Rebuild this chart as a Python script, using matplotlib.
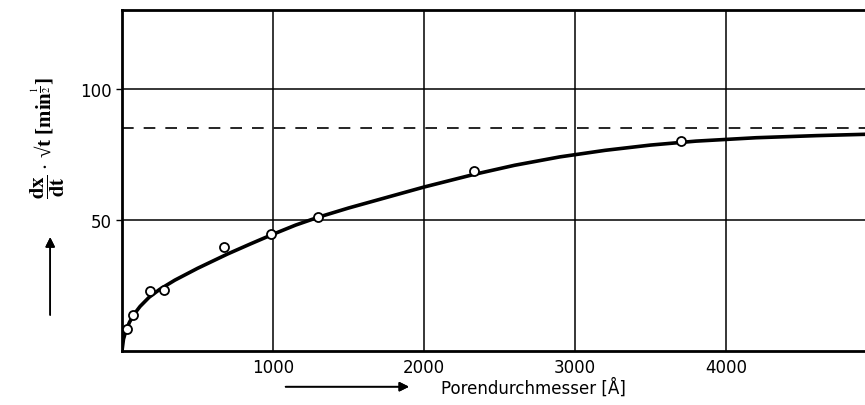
import matplotlib.pyplot as plt

plt.rcParams['mathtext.fontset'] = 'stix'

# measured points
pore_d = [33, 73, 185, 280, 675, 985, 1298, 2330, 3700]
rate = [8.4, 13.7, 23.0, 23.3, 39.7, 44.7, 51.0, 68.7, 80.0]

# hand-drawn fit curve
curve_x = [0, 10, 25, 50, 80, 120, 180, 250, 350, 500, 700, 850, 1000, 1150, 1300, 1500,
           1750, 2000, 2330, 2600, 2900, 3200, 3500, 3800, 4200, 4600, 4920]
curve_y = [0, 4.5, 7.5, 11, 14, 17, 20.5, 23.5, 27, 31.5, 37, 40.8, 44.5, 48, 51, 54.5,
           58.5, 62.5, 67.3, 70.8, 74, 76.5, 78.5, 80, 81.3, 82.1, 82.6]

limit = 85

fig = plt.figure(figsize=(8.65, 4.06), dpi=100)
ax = fig.add_axes([0.141, 0.133, 0.859, 0.84])

ax.plot(curve_x, curve_y, color='black', lw=2.6, solid_capstyle='round', zorder=3)
ax.plot(pore_d, rate, 'o', ms=6.5, mfc='white', mec='black', mew=1.3, zorder=4)
ax.axhline(limit, color='black', lw=1.2, dashes=(7, 6), zorder=2)

ax.set_xlim(0, 4920)
ax.set_ylim(0, 130)
ax.set_xticks([1000, 2000, 3000, 4000])
ax.set_yticks([50, 100])
ax.grid(True, color='black', lw=1.1)
ax.set_axisbelow(True)
ax.spines['right'].set_visible(False)
for s in ['top', 'bottom', 'left']:
    ax.spines[s].set_linewidth(2)
ax.tick_params(axis='x', length=0, pad=5, labelsize=12)
ax.tick_params(axis='y', length=4, width=1, labelsize=12, pad=3)

fig.text(0.51, 0.045, 'Porendurchmesser [Å]', fontsize=12, family='DejaVu Sans',
         ha='left', va='center')
fig.add_artist(plt.annotate('', xy=(0.476, 0.045), xytext=(0.327, 0.045),
                            xycoords='figure fraction',
                            arrowprops=dict(arrowstyle='-|>', color='black', lw=1.2,
                                            mutation_scale=14)))

fig.text(0.055, 0.66, r'$\mathbf{\dfrac{dx}{dt}}$ $\cdot$ √t [min$^{\frac{1}{2}}$]',
         rotation=90, fontsize=15, family='Liberation Serif', fontweight='bold',
         ha='center', va='center')
fig.add_artist(plt.annotate('', xy=(0.058, 0.42), xytext=(0.058, 0.215),
                            xycoords='figure fraction',
                            arrowprops=dict(arrowstyle='-|>', color='black', lw=1.2,
                                            mutation_scale=14)))

fig.savefig('out.png', dpi=100)
